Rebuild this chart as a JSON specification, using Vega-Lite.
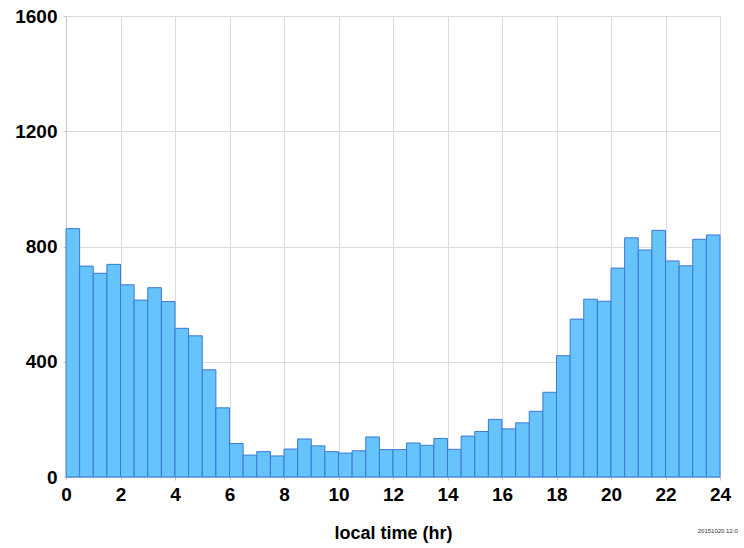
{
  "$schema": "https://vega.github.io/schema/vega-lite/v6.json",
  "autosize": {"type": "none"},
  "padding": {"left": 66, "top": 16, "right": 24, "bottom": 71},
  "width": 654,
  "height": 461,
  "background": "white",
  "title": {"text": "20151020 12:0", "orient": "bottom", "anchor": "start", "fontSize": 6, "font": "Liberation Sans", "fontWeight": "normal", "color": "#333", "offset": -14, "dx": 683},
  "config": {"view": {"stroke": null}},
  "data": {"values": [
    {"start": 0.0, "end": 0.5, "count": 862},
    {"start": 0.5, "end": 1.0, "count": 732},
    {"start": 1.0, "end": 1.5, "count": 707},
    {"start": 1.5, "end": 2.0, "count": 738},
    {"start": 2.0, "end": 2.5, "count": 667},
    {"start": 2.5, "end": 3.0, "count": 614},
    {"start": 3.0, "end": 3.5, "count": 657},
    {"start": 3.5, "end": 4.0, "count": 609},
    {"start": 4.0, "end": 4.5, "count": 516},
    {"start": 4.5, "end": 5.0, "count": 490},
    {"start": 5.0, "end": 5.5, "count": 372},
    {"start": 5.5, "end": 6.0, "count": 240},
    {"start": 6.0, "end": 6.5, "count": 116},
    {"start": 6.5, "end": 7.0, "count": 76},
    {"start": 7.0, "end": 7.5, "count": 88},
    {"start": 7.5, "end": 8.0, "count": 73},
    {"start": 8.0, "end": 8.5, "count": 97},
    {"start": 8.5, "end": 9.0, "count": 132},
    {"start": 9.0, "end": 9.5, "count": 108},
    {"start": 9.5, "end": 10.0, "count": 88},
    {"start": 10.0, "end": 10.5, "count": 83},
    {"start": 10.5, "end": 11.0, "count": 91},
    {"start": 11.0, "end": 11.5, "count": 139},
    {"start": 11.5, "end": 12.0, "count": 95},
    {"start": 12.0, "end": 12.5, "count": 95},
    {"start": 12.5, "end": 13.0, "count": 118},
    {"start": 13.0, "end": 13.5, "count": 110},
    {"start": 13.5, "end": 14.0, "count": 134},
    {"start": 14.0, "end": 14.5, "count": 96},
    {"start": 14.5, "end": 15.0, "count": 142},
    {"start": 15.0, "end": 15.5, "count": 158},
    {"start": 15.5, "end": 16.0, "count": 200},
    {"start": 16.0, "end": 16.5, "count": 167},
    {"start": 16.5, "end": 17.0, "count": 188},
    {"start": 17.0, "end": 17.5, "count": 228},
    {"start": 17.5, "end": 18.0, "count": 294},
    {"start": 18.0, "end": 18.5, "count": 421},
    {"start": 18.5, "end": 19.0, "count": 548},
    {"start": 19.0, "end": 19.5, "count": 617},
    {"start": 19.5, "end": 20.0, "count": 610},
    {"start": 20.0, "end": 20.5, "count": 725},
    {"start": 20.5, "end": 21.0, "count": 830},
    {"start": 21.0, "end": 21.5, "count": 788},
    {"start": 21.5, "end": 22.0, "count": 856},
    {"start": 22.0, "end": 22.5, "count": 750},
    {"start": 22.5, "end": 23.0, "count": 733},
    {"start": 23.0, "end": 23.5, "count": 825},
    {"start": 23.5, "end": 24.0, "count": 840}
  ]},
  "mark": {"type": "rect", "fill": "#66c4fb", "stroke": "#3b78d8", "strokeWidth": 1},
  "encoding": {
    "x": {
      "field": "start", "type": "quantitative",
      "scale": {"domain": [0, 24], "nice": false, "zero": false},
      "axis": {
        "title": "local time (hr)", "values": [0, 2, 4, 6, 8, 10, 12, 14, 16, 18, 20, 22, 24],
        "format": "d",
        "grid": true, "gridColor": "#dcdcdc", "gridWidth": 1,
        "domainColor": "#c8c8c8", "tickColor": "#c8c8c8", "tickSize": 3,
        "labelFont": "Liberation Sans", "labelFontSize": 19, "labelFontWeight": "bold", "labelColor": "#000",
        "labelPadding": 5, "labelFlush": false,
        "titleFont": "Liberation Sans", "titleFontSize": 18, "titleFontWeight": "bold", "titleColor": "#000",
        "titlePadding": 20
      }
    },
    "x2": {"field": "end"},
    "y": {
      "field": "count", "type": "quantitative",
      "scale": {"domain": [0, 1600], "nice": false},
      "axis": {
        "title": null, "values": [0, 400, 800, 1200, 1600],
        "format": "d",
        "grid": true, "gridColor": "#dcdcdc", "gridWidth": 1,
        "domainColor": "#c8c8c8", "tickColor": "#c8c8c8", "tickSize": 3,
        "labelFont": "Liberation Sans", "labelFontSize": 19, "labelFontWeight": "bold", "labelColor": "#000",
        "labelPadding": 6, "labelFlush": false
      }
    },
    "y2": {"datum": 0}
  }
}
